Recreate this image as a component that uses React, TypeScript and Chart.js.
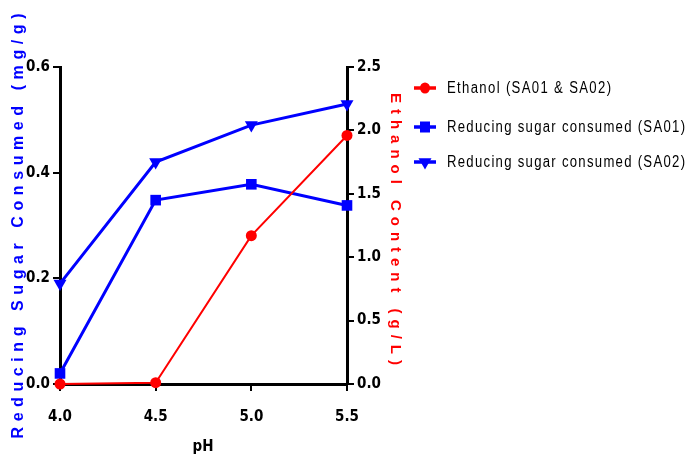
import React, { useEffect, useRef } from 'react';
import { Chart, registerables } from 'chart.js';

Chart.register(...registerables);

const phValues = [4.0, 4.5, 5.0, 5.5];
const ethanol = [0.0, 0.01, 1.17, 1.96];
const sugarSA01 = [0.02, 0.348, 0.378, 0.338];
const sugarSA02 = [0.19, 0.42, 0.49, 0.53];
const xTicks = [4.0, 4.5, 5.0, 5.5];
const leftTicks = [0, 0.2, 0.4, 0.6];
const rightTicks = [0, 0.5, 1.0, 1.5, 2.0, 2.5];
const legendLabels = ['Ethanol (SA01 & SA02)', 'Reducing sugar consumed (SA01)', 'Reducing sugar consumed (SA02)'];
const leftTitle = 'Reducing Sugar Consumed (mg/g)';
const rightTitle = 'Ethanol Content (g/L)';
const xTitle = 'pH';

const RED = '#ff0000';
const BLUE = '#0000ff';
const TICK_FONT_FAMILY = "'Liberation Sans Narrow', 'DejaVu Sans Condensed', 'Liberation Sans', Arial, sans-serif";

function drawSpaced(ctx: CanvasRenderingContext2D, text: string, cx: number, cy: number, target: number, font: string, color: string, rotation: number, scaleX: number, alignLeft = false) {
  ctx.save();
  ctx.font = font;
  (ctx as any).letterSpacing = '0px';
  const w = ctx.measureText(text).width;
  const n = text.length;
  const t = target / scaleX;
  const ls = (t - w) / (n - 1);
  ctx.translate(cx, cy);
  ctx.rotate(rotation);
  ctx.scale(scaleX, 1);
  (ctx as any).letterSpacing = ls + 'px';
  ctx.fillStyle = color;
  ctx.textAlign = 'left';
  ctx.textBaseline = 'middle';
  ctx.fillText(text, alignLeft ? 0 : -t / 2, 0);
  ctx.restore();
}

function drawMarker(ctx: CanvasRenderingContext2D, kind: string, x: number, y: number, color: string) {
  ctx.save();
  ctx.fillStyle = color;
  ctx.beginPath();
  if (kind === 'circle') {
    ctx.ellipse(x, y, 5, 5.5, 0, 0, Math.PI * 2);
  } else if (kind === 'rect') {
    ctx.rect(x - 5, y - 5.5, 10, 11);
  } else {
    const r = 7.5;
    ctx.moveTo(x, y + r);
    ctx.lineTo(x - r * Math.sqrt(3) / 2, y - r / 2);
    ctx.lineTo(x + r * Math.sqrt(3) / 2, y - r / 2);
    ctx.closePath();
  }
  ctx.fill();
  ctx.restore();
}

const annotationPlugin = {
  id: 'customText',
  afterDraw(chart: any) {
    const ctx: CanvasRenderingContext2D = chart.ctx;
    drawSpaced(ctx, leftTitle, 19, 226, 425, "bold 16px 'Liberation Sans', Arial, sans-serif", BLUE, -Math.PI / 2, 1);
    drawSpaced(ctx, rightTitle, 395, 229, 272, "bold 15px 'Liberation Sans', Arial, sans-serif", RED, Math.PI / 2, 1);
    ctx.save();
    ctx.font = "bold 15px " + TICK_FONT_FAMILY;
    ctx.fillStyle = '#000';
    ctx.textAlign = 'center';
    ctx.textBaseline = 'middle';
    ctx.fillText(xTitle, 203, 447);
    ctx.restore();

    const rows = [88, 127, 162];
    const widths = [164, 238, 238];
    const kinds = ['circle', 'rect', 'triangle'];
    const colors = [RED, BLUE, BLUE];
    for (let i = 0; i < legendLabels.length; i++) {
      const y = rows[i];
      ctx.save();
      ctx.strokeStyle = colors[i];
      ctx.lineWidth = 3.5;
      ctx.beginPath();
      ctx.moveTo(414, y);
      ctx.lineTo(436, y);
      ctx.stroke();
      ctx.restore();
      drawMarker(ctx, kinds[i], 425, y, colors[i]);
      drawSpaced(ctx, legendLabels[i], 447, y + 1, widths[i], "16px 'Liberation Sans', Arial, sans-serif", '#000', 0, 0.82, true);
    }
  },
};

export default function App() {
  const canvasRef = useRef<HTMLCanvasElement | null>(null);

  useEffect(() => {
    if (!canvasRef.current) return;
    const pts = (arr: number[]) => phValues.map((x, i) => ({ x, y: arr[i] }));
    const tickFont = { family: TICK_FONT_FAMILY, size: 15, weight: 'bold' as const };
    const chart = new Chart(canvasRef.current, {
      type: 'line',
      data: {
        datasets: [
          {
            label: legendLabels[0],
            data: pts(ethanol),
            yAxisID: 'y1',
            borderColor: RED,
            backgroundColor: RED,
            borderWidth: 2,
            pointStyle: 'circle',
            pointRadius: 5.5,
            pointBorderWidth: 0,
            clip: false as any,
          },
          {
            label: legendLabels[1],
            data: pts(sugarSA01),
            yAxisID: 'y',
            borderColor: BLUE,
            backgroundColor: BLUE,
            borderWidth: 3,
            pointStyle: 'rect',
            pointRadius: 7.5,
            pointBorderWidth: 0,
            clip: false as any,
          },
          {
            label: legendLabels[2],
            data: pts(sugarSA02),
            yAxisID: 'y',
            borderColor: BLUE,
            backgroundColor: BLUE,
            borderWidth: 3,
            pointStyle: 'triangle',
            pointRotation: 180,
            pointRadius: 7.5,
            pointBorderWidth: 0,
            clip: false as any,
          },
        ],
      },
      options: {
        animation: false,
        responsive: true,
        maintainAspectRatio: false,
        layout: { padding: { left: 0, right: 281, top: 67, bottom: 33 } },
        plugins: { legend: { display: false }, tooltip: { enabled: false } },
        scales: {
          x: {
            type: 'linear',
            min: 4.0,
            max: 5.5,
            afterBuildTicks: (s: any) => { s.ticks = xTicks.map((v) => ({ value: v })); },
            afterFit: (s: any) => { s.height = 40; },
            grid: { drawOnChartArea: false, drawTicks: true, tickLength: 7, color: '#000', lineWidth: 2 },
            border: { display: true, color: '#000', width: 3 },
            ticks: { color: '#000', font: tickFont, padding: 17, callback: (v: any) => Number(v).toFixed(1) },
          },
          y: {
            type: 'linear',
            position: 'left',
            min: 0,
            max: 0.6,
            afterBuildTicks: (s: any) => { s.ticks = leftTicks.map((v) => ({ value: v })); },
            afterFit: (s: any) => { s.width = 60; },
            grid: { drawOnChartArea: false, drawTicks: true, tickLength: 7, color: '#000', lineWidth: 2 },
            border: { display: true, color: '#000', width: 3 },
            ticks: { color: '#000', font: tickFont, padding: 3, callback: (v: any) => Number(v).toFixed(1) },
          },
          y1: {
            type: 'linear',
            position: 'right',
            min: 0,
            max: 2.5,
            afterBuildTicks: (s: any) => { s.ticks = rightTicks.map((v) => ({ value: v })); },
            afterFit: (s: any) => { s.width = 60; },
            grid: { drawOnChartArea: false, drawTicks: true, tickLength: 7, color: '#000', lineWidth: 2 },
            border: { display: true, color: '#000', width: 3 },
            ticks: { color: '#000', font: tickFont, padding: 3, callback: (v: any) => Number(v).toFixed(1) },
          },
        },
      },
      plugins: [annotationPlugin],
    });
    return () => chart.destroy();
  }, []);

  return (
    <div style={{ position: 'fixed', left: 0, top: 0, width: 688, height: 457, background: '#fff' }}>
      <canvas ref={canvasRef} />
    </div>
  );
}
